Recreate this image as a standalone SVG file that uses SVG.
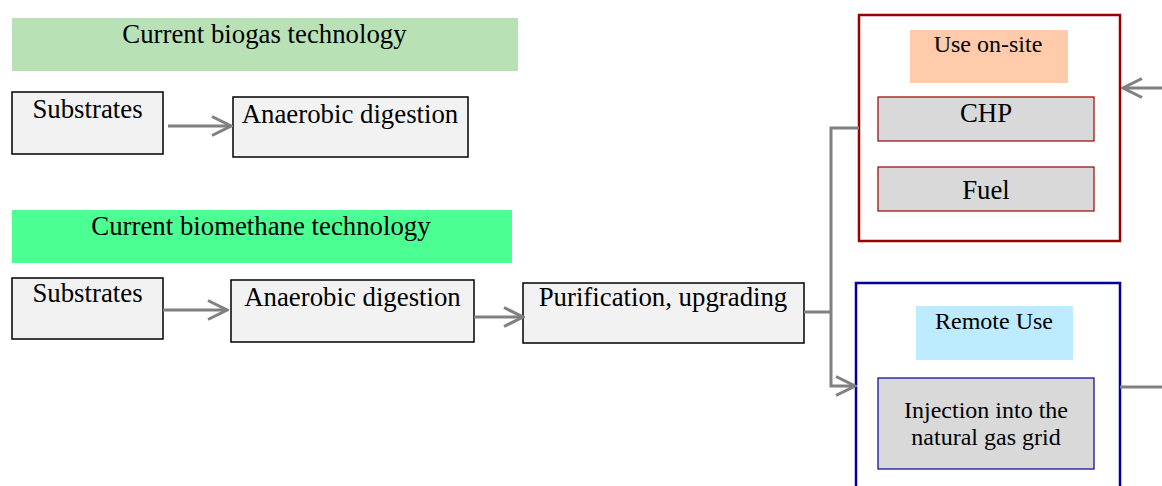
<svg xmlns="http://www.w3.org/2000/svg" width="1162" height="486" viewBox="0 0 1162 486" font-family="'Liberation Serif', 'Times New Roman', Times, serif">
<style>
text{font-family:'Liberation Serif','Times New Roman',Times,serif;fill:#000;text-anchor:middle}
.t26{font-size:26.8px}
.t24{font-size:24px}
.box{fill:#f2f2f2;stroke:#000;stroke-width:1.5}
.conn{fill:none;stroke:#808080;stroke-width:3}
.gray{fill:#d9d9d9;stroke-width:1.2}
</style>
<defs>
<marker id="chev" markerWidth="24" markerHeight="24" viewBox="-22 -12 24 24" refX="0" refY="0" orient="auto" markerUnits="userSpaceOnUse">
<path d="M -19,-9.5 L 0,0 L -19,9.5" fill="none" stroke="#808080" stroke-width="3"/>
</marker>
</defs>

<g id="title-biogas">
<rect x="12" y="18" width="506" height="53" fill="#b9e1b6"/>
<text class="t26" x="264.5" y="43">Current biogas technology</text>
</g>
<g id="substrates-1">
<rect class="box" x="12" y="92" width="151" height="62"/>
<text class="t26" x="87.5" y="118">Substrates</text>
</g>
<g id="ad-1">
<rect class="box" x="233" y="97" width="235" height="60"/>
<text class="t26" x="350" y="123">Anaerobic digestion</text>
</g>

<g id="title-biomethane">
<rect x="12" y="210" width="500" height="53" fill="#4cff92"/>
<text class="t26" x="261" y="235">Current biomethane technology</text>
</g>
<g id="substrates-2">
<rect class="box" x="12" y="278" width="151" height="61"/>
<text class="t26" x="87.5" y="302">Substrates</text>
</g>
<g id="ad-2">
<rect class="box" x="231" y="280" width="243" height="62"/>
<text class="t26" x="352.5" y="306">Anaerobic digestion</text>
</g>
<g id="purification">
<rect class="box" x="523" y="283" width="281" height="60"/>
<text class="t26" x="663" y="306">Purification, upgrading</text>
</g>

<g id="use-onsite">
<rect x="859" y="15" width="261" height="226" fill="#fff" stroke="#990000" stroke-width="2.5"/>
<rect x="910" y="30" width="158" height="53" fill="#ffcbaa"/>
<text class="t24" x="988" y="52">Use on-site</text>
</g>
<g id="chp">
<rect class="gray" x="878" y="97" width="216" height="44" stroke="#990000"/>
<text class="t26" x="986" y="122">CHP</text>
</g>
<g id="fuel">
<rect class="gray" x="878" y="167" width="216" height="44" stroke="#990000"/>
<text class="t26" x="986" y="199">Fuel</text>
</g>

<g id="remote-use">
<rect x="856" y="283" width="264" height="215" fill="#fff" stroke="#000099" stroke-width="2.5"/>
<rect x="916" y="306" width="157" height="54" fill="#bdebff"/>
<text class="t24" x="994" y="329">Remote Use</text>
</g>
<g id="injection">
<rect class="gray" x="878" y="378" width="216" height="91" stroke="#000099"/>
<text class="t24" x="986" y="418">Injection into the</text>
<text class="t24" x="986" y="445">natural gas grid</text>
</g>

<g id="connectors">
<line class="conn" x1="168" y1="126" x2="231" y2="126" marker-end="url(#chev)"/>
<line class="conn" x1="163" y1="310" x2="227" y2="310" marker-end="url(#chev)"/>
<line class="conn" x1="474" y1="317" x2="523" y2="317" marker-end="url(#chev)"/>
<polyline class="conn" points="804,312 831,312"/>
<polyline class="conn" points="859,128 831,128 831,386 855,386" marker-end="url(#chev)"/>
<line class="conn" x1="1162" y1="88" x2="1123" y2="88" marker-end="url(#chev)"/>
<line class="conn" x1="1120" y1="387" x2="1162" y2="387"/>
</g>
</svg>
